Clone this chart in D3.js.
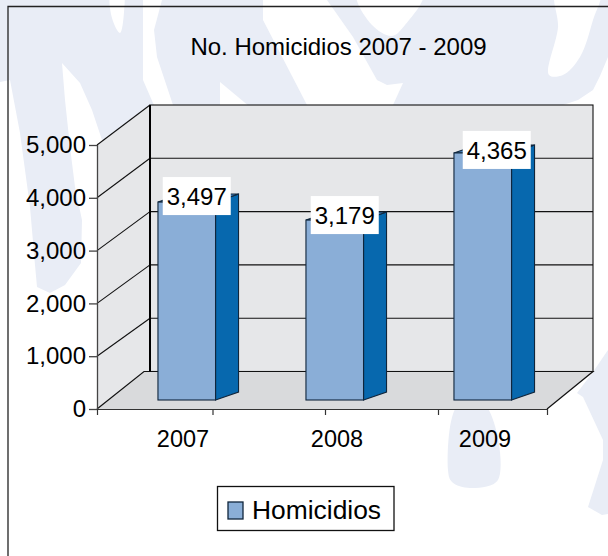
<!DOCTYPE html>
<html>
<head>
<meta charset="utf-8">
<script src="https://cdn.jsdelivr.net/npm/d3@7"></script>
<style>
  html, body { margin: 0; padding: 0; background: #fff; }
  svg { display: block; }
  text { font-family: "Liberation Sans", Arial, sans-serif; fill: #000; }
</style>
</head>
<body>
<div class="chart"></div>
<script>
var categories = ["2007", "2008", "2009"];
var homicidios = [3497, 3179, 4365];
var yTicks = [0, 1000, 2000, 3000, 4000, 5000];
var seriesName = "Homicidios";
var chartTitle = "No. Homicidios 2007 - 2009";

var width = 608, height = 556;
var depthX = 23, depthY = 8;   // bar side face

var svg = d3.select(".chart").append("svg")
  .attr("width", width)
  .attr("height", height);

// watermark behind the chart
var wmBlue = "#e9edf6";
var line = d3.line();
var softLine = d3.line().curve(d3.curveCatmullRomClosed.alpha(0.5));
var wmShapes = [
  { fill: wmBlue, soft: false, pts: [[0,0],[608,0],[608,57],[600,76],[593,90],[578,100],[560,106],[560,150],[110,150],[103,143],[92,110],[80,83],[62,63],[65,100],[70,147],[75,187],[82,220],[81,263],[65,285],[50,293],[37,287],[35,265],[30,207],[20,133],[10,80],[0,82]] },
  { fill: "#fff", soft: true, pts: [[111,-6],[112,18],[120,33],[124,12],[123,-6]] },
  { fill: "#fff", soft: false, pts: [[143,0],[143,80],[153,103],[160,115],[176,115],[173,105],[157,57],[154,30],[162,0]] },
  { fill: "#fff", soft: false, pts: [[263,0],[263,20],[307,105],[393,105],[403,83],[387,85],[377,80],[353,37],[327,0]] },
  { fill: "#fff", soft: true, pts: [[357,-6],[372,25],[392,36],[405,25],[423,-6]] },
  { fill: "#fff", soft: true, pts: [[556,-8],[558,27],[549,75],[563,75],[580,57],[593,20],[600,-8]] },
  { fill: "#fff", soft: false, pts: [[220,82],[250,107],[220,107]] },
  { fill: wmBlue, soft: true, pts: [[458,405],[448,470],[452,482],[470,488],[498,480],[485,405]] },
  { fill: wmBlue, soft: false, pts: [[577,393],[583,397],[603,440],[603,460],[588,507],[602,515],[608,514],[608,350],[593,372]] }
];
svg.append("g").attr("class", "watermark")
  .selectAll("path")
  .data(wmShapes)
  .enter().append("path")
  .attr("d", function(d){ return d.soft ? softLine(d.pts) : line(d.pts) + "Z"; })
  .attr("fill", function(d){ return d.fill; });

// outer frame
svg.append("path")
  .attr("d", "M608,6.5H8V556")
  .attr("fill", "none")
  .attr("stroke", "#222")
  .attr("stroke-width", 1.3);

// scales: front edge of the box, back wall, and the bars
var y_front = d3.scaleLinear().domain([0, 5000]).range([409, 145]);
var y_back = d3.scaleLinear().domain([0, 5000]).range([371.5, 105]);
var y_bar = d3.scaleLinear().domain([0, 5000]).range([400, 117]);
var x_bar = d3.scaleBand().domain(categories).range([112.75, 556.75])
  .paddingInner(0.611).paddingOuter(0.3055);
var x_label = d3.scaleOrdinal().domain(categories).range([183, 337, 485]);
var x_tick = d3.scaleLinear().domain([0, 1, 2, 3, 4]).range([97, 212.5, 325, 438, 547]);
var value_dx = d3.scaleOrdinal().domain(categories).range([10, 10, 14]);
var value_dy = d3.scaleOrdinal().domain(categories).range([-6, -5, -3]);

var wallX = 150, wallR = 593, frontL = 97, frontR = 547, floorL = 144;
var yTop = 5000;

// walls and floor
var box = svg.append("g").attr("class", "box");
box.append("path")
  .attr("d", line([[frontL, y_front(yTop)], [wallX, y_back(yTop)], [wallX, y_back(0)], [floorL, y_back(0)], [frontL, y_front(0)]]) + "Z")
  .attr("fill", "#e6e7e9");
box.append("rect")
  .attr("x", wallX).attr("y", y_back(yTop))
  .attr("width", wallR - wallX).attr("height", y_back(0) - y_back(yTop))
  .attr("fill", "#e6e7e9")
  .attr("stroke", "#111").attr("stroke-width", 1.1);
box.append("path")
  .attr("d", line([[frontL, y_front(0)], [floorL, y_back(0)], [wallR, y_back(0)], [frontR, y_front(0)]]) + "Z")
  .attr("fill", "#d9dadc");

// gridlines
var grid = box.selectAll(".grid").data(yTicks).enter().append("g").attr("class", "grid");
grid.filter(function(d){ return d > 0; }).append("line")
  .attr("x1", frontL).attr("x2", wallX)
  .attr("y1", function(d){ return y_front(d); })
  .attr("y2", function(d){ return y_back(d); })
  .attr("stroke", "#111").attr("stroke-width", 1.1);
grid.filter(function(d){ return d > 0 && d < yTop; }).append("line")
  .attr("x1", wallX).attr("x2", wallR)
  .attr("y1", function(d){ return y_back(d); })
  .attr("y2", function(d){ return y_back(d); })
  .attr("stroke", "#111").attr("stroke-width", 1.1);

// floor edges and thick corner
box.append("path")
  .attr("d", line([[frontL, y_front(0)], [floorL, y_back(0)], [wallR, y_back(0)], [frontR, y_front(0)]]))
  .attr("fill", "none").attr("stroke", "#111").attr("stroke-width", 1.2);
box.append("line")
  .attr("x1", wallX).attr("x2", wallX)
  .attr("y1", y_back(yTop)).attr("y2", y_back(0))
  .attr("stroke", "#000").attr("stroke-width", 2);

// axes
var yAxis = svg.append("g")
  .attr("class", "y-axis")
  .attr("transform", "translate(" + frontL + ",0)")
  .call(d3.axisLeft(y_front).tickValues(yTicks).tickFormat(d3.format(",")).tickSize(8).tickPadding(3));
var xAxis = svg.append("g")
  .attr("class", "x-axis")
  .attr("transform", "translate(0," + y_front(0) + ")")
  .call(d3.axisBottom(x_tick).tickValues([0, 1, 2, 3, 4]).tickFormat("").tickSize(6));
yAxis.selectAll("path, line").attr("stroke", "#444").attr("stroke-width", 1.3);
xAxis.selectAll("path, line").attr("stroke", "#333").attr("stroke-width", 1.2);
xAxis.select(".domain").attr("d", "M" + frontL + ",0.5H" + frontR);
yAxis.select(".domain").attr("d", "M0.5," + y_front(yTop) + "V" + y_front(0));
yAxis.selectAll("text").attr("font-size", 24).attr("font-family", '"Liberation Sans", Arial, sans-serif');

svg.selectAll(".year")
  .data(categories)
  .enter().append("text")
  .attr("class", "year")
  .attr("x", function(d){ return x_label(d); })
  .attr("y", 447)
  .attr("text-anchor", "middle")
  .attr("font-size", 23.5)
  .text(function(d){ return d; });

// bars
var rows = categories.map(function(c, i){ return { cat: c, val: homicidios[i] }; });
var bars = svg.selectAll(".bar").data(rows).enter().append("g").attr("class", "bar");
var barStroke = "#10263c";

bars.append("path") // side
  .attr("d", function(d){
    var r = x_bar(d.cat) + x_bar.bandwidth();
    return line([[r, y_bar(d.val)], [r + depthX, y_bar(d.val) - depthY], [r + depthX, y_bar(0) - depthY], [r, y_bar(0)]]) + "Z";
  })
  .attr("fill", "#0768ae").attr("stroke", barStroke).attr("stroke-width", 1.1);
bars.append("path") // top
  .attr("d", function(d){
    var l = x_bar(d.cat), r = l + x_bar.bandwidth();
    return line([[l, y_bar(d.val)], [l + depthX, y_bar(d.val) - depthY], [r + depthX, y_bar(d.val) - depthY], [r, y_bar(d.val)]]) + "Z";
  })
  .attr("fill", "#3f7cb8").attr("stroke", barStroke).attr("stroke-width", 1.1);
bars.append("rect") // front
  .attr("x", function(d){ return x_bar(d.cat); })
  .attr("y", function(d){ return y_bar(d.val); })
  .attr("width", x_bar.bandwidth())
  .attr("height", function(d){ return y_bar(0) - y_bar(d.val); })
  .attr("fill", "#8aaed7").attr("stroke", barStroke).attr("stroke-width", 1.1);

// value labels on white boxes
var valueLabels = svg.selectAll(".value").data(rows).enter().append("g").attr("class", "value")
  .attr("transform", function(d){
    return "translate(" + (x_bar(d.cat) + x_bar.bandwidth() / 2 + value_dx(d.cat)) + "," + (y_bar(d.val) + value_dy(d.cat)) + ")";
  });
valueLabels.append("rect")
  .attr("x", -34).attr("y", -19)
  .attr("width", 68).attr("height", 38)
  .attr("fill", "#fff");
valueLabels.append("text")
  .attr("text-anchor", "middle")
  .attr("y", 9)
  .attr("font-size", 24)
  .text(function(d){ return d3.format(",")(d.val); });

// title
svg.append("text")
  .attr("x", 338.5).attr("y", 55)
  .attr("text-anchor", "middle")
  .attr("font-size", 24)
  .text(chartTitle);

// legend
var legend = svg.append("g").attr("class", "legend");
legend.append("rect")
  .attr("x", 217.5).attr("y", 486.5)
  .attr("width", 176.5).attr("height", 44)
  .attr("fill", "#fff").attr("stroke", "#111").attr("stroke-width", 1.3);
legend.append("rect")
  .attr("x", 228).attr("y", 502)
  .attr("width", 15).attr("height", 17)
  .attr("fill", "#8aaed7").attr("stroke", barStroke).attr("stroke-width", 1.3);
legend.append("text")
  .attr("x", 252).attr("y", 519)
  .attr("font-size", 26.4)
  .text(seriesName);
</script>
</body>
</html>
